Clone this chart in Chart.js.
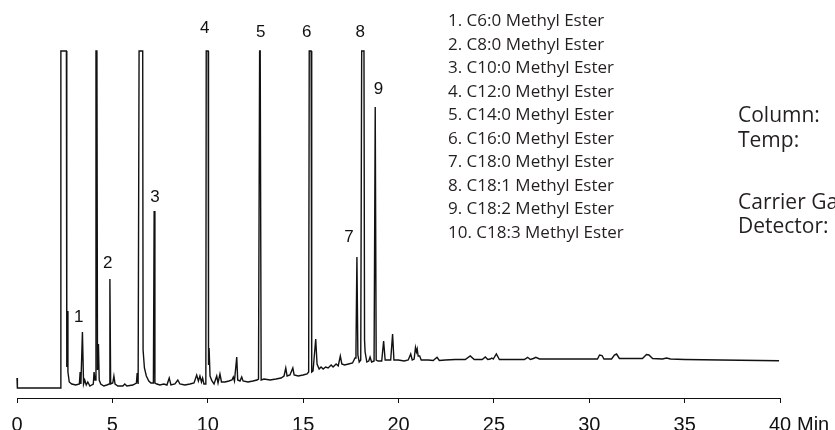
<!DOCTYPE html>
<html>
<head>
<meta charset="utf-8">
<script src="https://cdn.jsdelivr.net/npm/chart.js@4.4.1/dist/chart.umd.min.js"></script>
<style>
  html, body { margin: 0; padding: 0; background: #fff; overflow: hidden; }
  canvas { display: block; }
</style>
</head>
<body>
<canvas id="fameChart" width="835" height="430"></canvas>
<script>
// FID trace: retention time (min) and detector response (arbitrary units)
const retentionTimes = [
    0, 0.02, 2.29, 2.30, 2.59, 2.61, 2.64, 2.67, 2.74, 2.87,
    3.08, 3.27, 3.31, 3.35, 3.43, 3.49, 3.55, 3.63, 3.71, 3.82,
    4.00, 4.04, 4.09, 4.14, 4.19, 4.22, 4.27, 4.31, 4.39, 4.55,
    4.71, 4.83, 4.87, 4.91, 5.02, 5.08, 5.14, 5.29, 5.55, 5.65,
    5.76, 6.07, 6.26, 6.30, 6.35, 6.40, 6.59, 6.61, 6.68, 6.78,
    6.91, 7.02, 7.15, 7.19, 7.23, 7.33, 7.49, 7.70, 7.86, 7.98,
    8.07, 8.28, 8.43, 8.54, 8.80, 9.07, 9.28, 9.42, 9.51, 9.59,
    9.67, 9.73, 9.80, 9.90, 9.92, 10.02, 10.04, 10.07, 10.12, 10.22,
    10.33, 10.47, 10.54, 10.64, 10.72, 10.90, 11.11, 11.27, 11.34, 11.40,
    11.52, 11.57, 11.69, 11.78, 11.85, 12.11, 12.37, 12.58, 12.66, 12.72,
    12.75, 12.80, 12.95, 13.27, 13.58, 13.84, 14.00, 14.09, 14.16, 14.31,
    14.46, 14.53, 14.74, 15.00, 15.21, 15.29, 15.32, 15.42, 15.45, 15.52,
    15.66, 15.73, 15.84, 15.94, 16.05, 16.18, 16.31, 16.47, 16.57, 16.73,
    16.84, 16.95, 17.03, 17.17, 17.38, 17.59, 17.72, 17.77, 17.82, 17.87,
    17.94, 18.02, 18.07, 18.19, 18.22, 18.25, 18.34, 18.44, 18.51, 18.59,
    18.72, 18.78, 18.83, 18.93, 19.12, 19.22, 19.30, 19.59, 19.69, 19.76,
    19.99, 20.30, 20.51, 20.64, 20.72, 20.82, 20.89, 20.94, 20.98, 21.03,
    21.11, 21.19, 21.56, 21.82, 22.02, 22.14, 22.45, 22.98, 23.50, 23.76,
    23.97, 24.39, 24.55, 24.68, 24.81, 24.89, 24.97, 25.13, 25.29, 25.86,
    26.60, 26.77, 26.91, 27.07, 27.20, 27.39, 27.96, 29.01, 30.43, 30.54,
    30.67, 30.77, 31.17, 31.32, 31.43, 31.58, 32.16, 32.79, 33.00, 33.13,
    33.32, 33.84, 34.05, 34.26, 35.00, 36.89, 39.95
];
const detectorSignal = [
    10, 0, 0, 337, 337, 21, 77, 16, 6, 4,
    3, 4, 16, 4, 56, 4, 8, 3, 6, 2,
    4, 16, 8, 337, 337, 18, 44, 8, 4, 2,
    3, 4, 109, 4, 5, 12, 4, 2, 2, 4,
    2, 3, 5, 15, 4, 337, 337, 38, 20, 12,
    7, 5, 5, 177, 5, 4, 3, 4, 3, 10,
    3, 4, 8, 4, 3, 4, 5, 13, 7, 12,
    6, 10, 4, 4, 337, 337, 23, 40, 12, 7,
    4, 12, 5, 14, 6, 6, 7, 8, 11, 7,
    31, 8, 7, 11, 7, 6, 7, 8, 9, 337,
    337, 8, 9, 8, 9, 10, 12, 20, 12, 13,
    20, 13, 12, 13, 14, 16, 337, 337, 16, 17,
    49, 24, 19, 21, 19, 21, 20, 23, 21, 24,
    22, 32, 24, 23, 24, 25, 30, 38, 131, 33,
    26, 28, 337, 337, 48, 36, 26, 27, 31, 26,
    27, 281, 28, 27, 27, 47, 28, 28, 54, 28,
    28, 27, 28, 34, 28, 29, 40.5, 36, 39, 32,
    32, 28, 28, 27.5, 30.7, 27.5, 28, 28.5, 28.5, 32,
    28.5, 28.5, 31, 28.5, 29, 30, 29, 34, 28.5, 28.5,
    28.5, 30.7, 28.5, 29.5, 30.7, 29, 29, 29, 29, 33,
    32.5, 29, 29, 33, 34, 29.5, 29.5, 29.5, 33.5, 33,
    29.5, 29, 30, 29, 28.5, 28, 27.3
];

// Peak numbers with the time/height where each number is printed
const peakLabels = ['1', '2', '3', '4', '5', '6', '7', '8', '9'];
const peakLabelTimes = [3.24, 4.76, 7.23, 9.84, 12.78, 15.19, 17.41, 17.99, 18.95];
const peakLabelHeights = [66.3, 119.7, 186.3, 354.7, 350.7, 350.7, 146.3, 350.7, 293.7];

const compoundNames = [
    '1. C6:0 Methyl Ester',
    '2. C8:0 Methyl Ester',
    '3. C10:0 Methyl Ester',
    '4. C12:0 Methyl Ester',
    '5. C14:0 Methyl Ester',
    '6. C16:0 Methyl Ester',
    '7. C18:0 Methyl Ester',
    '8. C18:1 Methyl Ester',
    '9. C18:2 Methyl Ester',
    '10. C18:3 Methyl Ester'
];
const conditionLabels = ['Column:', 'Temp:', 'Carrier Gas:', 'Detector:'];
const conditionBaselines = [121.7, 146.7, 209.3, 232.7];

const inkColor = '#111';
const axisFont = "'Liberation Sans', Arial, sans-serif";
const textFont = "'Open Sans', sans-serif";

// Draws peak numbers, compound list, conditions and the "Min" unit
const annotations = {
    id: 'annotations',
    afterDraw(chart) {
        const { ctx, scales } = chart;
        const xs = scales.x, ys = scales.y;
        ctx.save();
        ctx.fillStyle = inkColor;
        ctx.textBaseline = 'alphabetic';

        ctx.font = `17px ${axisFont}`;
        ctx.textAlign = 'center';
        peakLabels.forEach((lbl, i) => {
            ctx.fillText(lbl, xs.getPixelForValue(peakLabelTimes[i]), ys.getPixelForValue(peakLabelHeights[i]));
        });

        ctx.fillStyle = '#231f20';
        ctx.textAlign = 'left';
        ctx.font = `17px ${textFont}`;
        compoundNames.forEach((name, i) => {
            ctx.fillText(name, 448, 26 + 23.52 * i);
        });

        ctx.font = `21px ${textFont}`;
        conditionLabels.forEach((lbl, i) => {
            ctx.fillText(lbl, 738, conditionBaselines[i]);
        });

        // unit written after the last tick label, on the same line
        ctx.fillStyle = inkColor;
        ctx.font = `20px ${axisFont}`;
        ctx.textBaseline = 'middle';
        ctx.fillText('Min', xs.right + 17, xs.top + 5 + 10 + 12);
        ctx.restore();
    }
};

new Chart(document.getElementById('fameChart'), {
    type: 'scatter',
    data: {
        datasets: [{
            data: retentionTimes.map((t, i) => ({ x: t, y: detectorSignal[i] })),
            showLine: true,
            borderColor: inkColor,
            borderWidth: 1.4,
            pointRadius: 0,
            tension: 0,
            clip: false
        }]
    },
    options: {
        responsive: false,
        animation: false,
        layout: { padding: { left: 17, right: 55, top: 51, bottom: 0 } },
        plugins: {
            legend: { display: false },
            tooltip: { enabled: false }
        },
        scales: {
            x: {
                type: 'linear',
                min: 0,
                max: 40,
                ticks: {
                    stepSize: 5,
                    color: inkColor,
                    padding: 10,
                    maxRotation: 0,
                    font: { family: axisFont, size: 20 }
                },
                grid: { drawOnChartArea: false, drawTicks: true, tickLength: 5, color: inkColor },
                border: { color: inkColor, width: 1 },
                afterFit(scale) { scale.height = 32; }
            },
            y: {
                display: false,
                min: -10,
                max: 337
            }
        }
    },
    plugins: [annotations]
});
</script>
</body>
</html>
